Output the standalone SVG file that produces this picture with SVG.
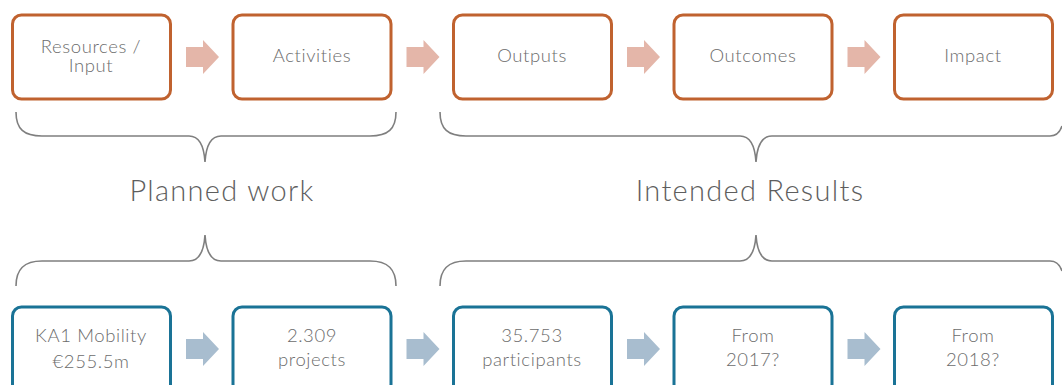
<svg xmlns="http://www.w3.org/2000/svg" width="1062" height="385" viewBox="0 0 1062 385">
  <style>
    .box-o { fill: #ffffff; stroke: #c0622f; stroke-width: 3; }
    .box-b { fill: #ffffff; stroke: #1a7396; stroke-width: 3; }
    .lbl { font-family: Lato, "Liberation Sans", sans-serif; font-weight: 300; font-size: 18.5px; letter-spacing: 0.6px; fill: #6c6c6c; text-anchor: middle; }
    .big { font-family: Lato, "Liberation Sans", sans-serif; font-weight: 300; font-size: 29px; letter-spacing: 1.3px; fill: #5e5e5e; text-anchor: middle; }
    .brace { fill: none; stroke: #7f7f7f; stroke-width: 1.6; }
    .arr-o { fill: #e4b6a9; }
    .arr-b { fill: #a8bdcf; }
  </style>
  <defs>
    <path id="blockArrow" d="M0,-10 L17,-10 L17,-17 L33,0 L17,17 L17,10 L0,10 Z"/>
  </defs>

  <rect width="1062" height="385" fill="#ffffff"/>

  <!-- top row: logic model stages -->
  <g id="node-resources"><rect class="box-o" x="12.5" y="15" width="158" height="84" rx="9"/>
    <text class="lbl" x="91" y="52.5">Resources /</text><text class="lbl" x="91" y="72">Input</text></g>
  <g id="node-activities"><rect class="box-o" x="233" y="15" width="158" height="84" rx="9"/>
    <text class="lbl" x="312" y="62">Activities</text></g>
  <g id="node-outputs"><rect class="box-o" x="453.5" y="15" width="158" height="84" rx="9"/>
    <text class="lbl" x="532" y="62">Outputs</text></g>
  <g id="node-outcomes"><rect class="box-o" x="674" y="15" width="158" height="84" rx="9"/>
    <text class="lbl" x="753" y="62">Outcomes</text></g>
  <g id="node-impact"><rect class="box-o" x="894.5" y="15" width="158" height="84" rx="9"/>
    <text class="lbl" x="973" y="62">Impact</text></g>

  <!-- bottom row: KA1 figures -->
  <g id="node-ka1"><rect class="box-b" x="12.5" y="307" width="158" height="86" rx="9"/>
    <text class="lbl" x="91" y="342">KA1 Mobility</text><text class="lbl" x="91" y="368">€255.5m</text></g>
  <g id="node-projects"><rect class="box-b" x="233" y="307" width="158" height="86" rx="9"/>
    <text class="lbl" x="312" y="342">2.309</text><text class="lbl" x="312" y="366">projects</text></g>
  <g id="node-participants"><rect class="box-b" x="453.5" y="307" width="158" height="86" rx="9"/>
    <text class="lbl" x="532" y="342">35.753</text><text class="lbl" x="532" y="366">participants</text></g>
  <g id="node-2017"><rect class="box-b" x="674" y="307" width="158" height="86" rx="9"/>
    <text class="lbl" x="753" y="342">From</text><text class="lbl" x="753" y="366">2017?</text></g>
  <g id="node-2018"><rect class="box-b" x="894.5" y="307" width="158" height="86" rx="9"/>
    <text class="lbl" x="973" y="342">From</text><text class="lbl" x="973" y="366">2018?</text></g>

  <!-- group labels -->
  <g id="label-planned"><text class="big" x="222" y="201">Planned work</text></g>
  <g id="label-intended"><text class="big" x="750" y="201">Intended Results</text></g>

  <g id="connectors">
    <!-- block arrows between stages -->
    <use href="#blockArrow" class="arr-o" x="186" y="57"/>
    <use href="#blockArrow" class="arr-o" x="406.5" y="57"/>
    <use href="#blockArrow" class="arr-o" x="627" y="57"/>
    <use href="#blockArrow" class="arr-o" x="847.5" y="57"/>
    <use href="#blockArrow" class="arr-b" x="186" y="349"/>
    <use href="#blockArrow" class="arr-b" x="406.5" y="349"/>
    <use href="#blockArrow" class="arr-b" x="627" y="349"/>
    <use href="#blockArrow" class="arr-b" x="847.5" y="349"/>

    <!-- braces under the top row -->
    <path class="brace" d="M16,112 C16,129 24,136 42,136 L189,136 C199,136 204,146 205,162 C206,146 211,136 221,136 L370,136 C388,136 396,129 396,112"/>
    <path class="brace" d="M440,112 C440,129 448,136 466,136 L740,136 C750,136 755,146 756,162 C757,146 762,136 772,136 L1050,136 C1056,136 1060,132 1062,126"/>

    <!-- braces above the bottom row -->
    <path class="brace" d="M16,286 C16,269 24,261 42,261 L189,261 C199,261 204,251 205,235 C206,251 211,261 221,261 L370,261 C388,261 396,269 396,286"/>
    <path class="brace" d="M440,286 C440,269 448,261 466,261 L740,261 C750,261 755,251 756,235 C757,251 762,261 772,261 L1050,261 C1056,261 1060,265 1062,271"/>
  </g>
</svg>
